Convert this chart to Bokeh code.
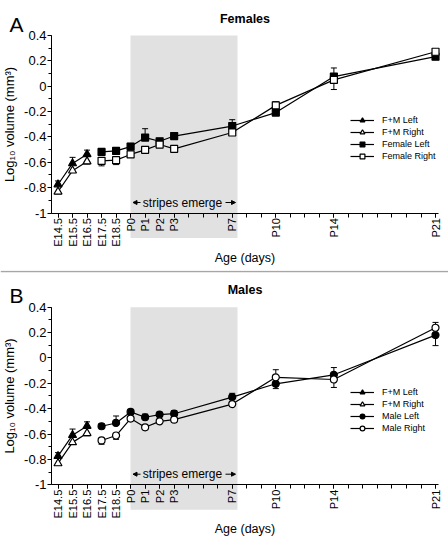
import math
from bokeh.plotting import figure
from bokeh.models import (FixedTicker, Label, Arrow, NormalHead, Whisker, TeeHead,
                          ColumnDataSource, Legend, LegendItem, Span)
from bokeh.layouts import column
from bokeh.embed import file_html
from bokeh.resources import INLINE

# ---------------- data ----------------
X_LABELS = ["E14.5", "E15.5", "E16.5", "E17.5", "E18.5", "P0", "P1", "P2", "P3",
            "P7", "P10", "P14", "P21"]
X_DAYS = [-5, -4, -3, -2, -1, 0, 1, 2, 3, 7, 10, 14, 21]
FM_DAYS = X_DAYS[:3]
SEX_DAYS = X_DAYS[3:]

fm_left = [-0.775, -0.609, -0.537]
fm_right = [-0.832, -0.666, -0.594]
fm_left_err = [0.028, 0.048, 0.033]
fm_right_err = [0.016, 0.015, 0.02]

female_left = [-0.518, -0.510, -0.476, -0.405, -0.434, -0.393, -0.314, -0.208, 0.076, 0.233]
female_right = [-0.588, -0.583, -0.538, -0.502, -0.460, -0.494, -0.365, -0.151, 0.050, 0.272]
female_left_err = [0.02, 0.02, 0.025, 0.07, 0.015, 0.01, 0.05, 0.015, 0.068, 0.01]
female_right_err = [0.04, 0.035, 0.015, 0.02, 0.01, 0.01, 0.01, 0.03, 0.076, 0.01]

male_left = [-0.539, -0.513, -0.426, -0.468, -0.447, -0.440, -0.309, -0.204, -0.133, 0.180]
male_right = [-0.651, -0.612, -0.478, -0.547, -0.500, -0.487, -0.364, -0.153, -0.170, 0.238]
male_left_err = [0.02, 0.055, 0.015, 0.025, 0.02, 0.025, 0.03, 0.038, 0.057, 0.083]
male_right_err = [0.03, 0.03, 0.01, 0.01, 0.01, 0.01, 0.01, 0.06, 0.063, 0.042]

Y_TICKS = [-1, -0.8, -0.6, -0.4, -0.2, 0, 0.2, 0.4]
Y_TICK_LABELS = ["-1", "-0.8", "-0.6", "-0.4", "-0.2", "0", "0.2", "0.4"]
Y_MINOR = [-1, -0.9, -0.8, -0.7, -0.6, -0.5, -0.4, -0.3, -0.2, -0.1, 0, 0.1, 0.2, 0.3, 0.4]
ALL_DAYS = list(range(-5, 22))

FONT = "Liberation Sans"

# ---------------- layout constants (pixels) ----------------
W = 448
PX_DAY = 14.52          # pixels per day
X0_PX = 57.5            # pixel of E14.5 (day -5)
PX_UNIT = 126.8         # pixels per log unit


def xd(px):
    return -5 + (px - X0_PX) / PX_DAY


X_RANGE = (xd(0), xd(W))
AXIS_X = xd(51)
AXIS_X_END = xd(438)


def whiskers(p, xs, ys, partner, errs):
    up = dict(base=[], lower=[], upper=[])
    dn = dict(base=[], lower=[], upper=[])
    for x, y, q, e in zip(xs, ys, partner, errs):
        if y >= q:
            up["base"].append(x); up["lower"].append(y); up["upper"].append(y + e)
        else:
            dn["base"].append(x); dn["lower"].append(y - e); dn["upper"].append(y)
    p.add_layout(Whisker(source=ColumnDataSource(up), base="base", lower="lower", upper="upper",
                         line_color="black", line_width=1, lower_head=None,
                         upper_head=TeeHead(size=6, line_width=1, line_color="black"),
                         level="underlay"))
    p.add_layout(Whisker(source=ColumnDataSource(dn), base="base", lower="lower", upper="upper",
                         line_color="black", line_width=1, upper_head=None,
                         lower_head=TeeHead(size=6, line_width=1, line_color="black"),
                         level="underlay"))


def make_panel(letter, title, s_left, s_right, s_left_err, s_right_err, marker, names,
               height, y04, separator=False):
    def yd(py):
        return 0.4 - (py - y04) / PX_UNIT

    p = figure(width=W, height=height, x_range=X_RANGE, y_range=(yd(height), yd(0)),
               output_backend="svg", toolbar_location=None,
               min_border_left=0, min_border_right=0, min_border_top=0,
               min_border_bottom=0, outline_line_color=None)
    p.grid.visible = False

    if separator:
        p.add_layout(Span(location=yd(1), dimension="width", line_color="#a6a6a6",
                          line_width=1.5))

    p.quad(left=xd(130), right=xd(237), bottom=yd(y04 + 202.5), top=0.4,
           fill_color="#e1e1e1", line_color=None, level="image")

    whiskers(p, FM_DAYS, fm_left, fm_right, fm_left_err)
    whiskers(p, FM_DAYS, fm_right, fm_left, fm_right_err)
    whiskers(p, SEX_DAYS, s_left, s_right, s_left_err)
    whiskers(p, SEX_DAYS, s_right, s_left, s_right_err)

    series = [
        (FM_DAYS, fm_left, "triangle", "black", 8, names[0]),
        (FM_DAYS, fm_right, "triangle", "white", 8, names[1]),
        (SEX_DAYS, s_left, marker, "black", 7, names[2]),
        (SEX_DAYS, s_right, marker, "white", 7, names[3]),
    ]
    items = []
    for xs, ys, mk, fill, size, name in series:
        l = p.line(xs, ys, line_color="black", line_width=1.2)
        s = p.scatter(xs, ys, marker=mk, size=size, fill_color=fill, line_color="black",
                      line_width=1.2)
        items.append(LegendItem(label=name, renderers=[l, s]))

    legend = Legend(items=items, location=(350, height - (y04 + 127)), border_line_color=None,
                    background_fill_alpha=0, label_text_font=FONT,
                    label_text_font_size="9px", label_text_color="black",
                    glyph_width=24, glyph_height=12, label_height=12, spacing=0,
                    padding=0, margin=0, label_standoff=8)
    p.add_layout(legend)

    # axes (placed inside the frame at fixed data positions)
    ya = p.yaxis[0]
    ya.fixed_location = AXIS_X
    ya.bounds = (-1, 0.4)
    ya.ticker = FixedTicker(ticks=Y_TICKS, minor_ticks=Y_MINOR)
    ya.major_label_overrides = dict(zip(Y_TICKS, Y_TICK_LABELS))
    ya.major_tick_out = 4
    ya.major_tick_in = 0
    ya.minor_tick_out = 3
    ya.minor_tick_in = 0
    ya.major_label_standoff = 1
    ya.major_label_text_font = FONT
    ya.major_label_text_font_size = "13px"
    ya.major_label_text_color = "black"
    ya.axis_line_color = "black"
    ya.major_tick_line_color = "black"
    ya.minor_tick_line_color = "black"
    ya.axis_label = "Log\u2081\u2080 volume (mm\u00b3)"
    ya.axis_label_text_font = FONT
    ya.axis_label_text_font_style = "normal"
    ya.axis_label_text_font_size = "13px"
    ya.axis_label_text_color = "black"
    ya.axis_label_standoff = 4

    xa = p.xaxis[0]
    xa.fixed_location = -1
    xa.bounds = (AXIS_X, AXIS_X_END)
    xa.ticker = FixedTicker(ticks=X_DAYS, minor_ticks=ALL_DAYS)
    xa.major_label_overrides = dict(zip(X_DAYS, X_LABELS))
    xa.major_label_orientation = math.pi / 2
    xa.major_tick_out = 4
    xa.major_tick_in = 0
    xa.minor_tick_out = 4
    xa.minor_tick_in = 0
    xa.major_label_standoff = 1
    xa.major_label_text_font = FONT
    xa.major_label_text_font_size = "11px"
    xa.major_label_text_color = "black"
    xa.axis_line_color = "black"
    xa.major_tick_line_color = "black"
    xa.minor_tick_line_color = "black"
    xa.axis_label = "Age (days)"
    xa.axis_label_text_font = FONT
    xa.axis_label_text_font_style = "normal"
    xa.axis_label_text_font_size = "12.5px"
    xa.axis_label_text_color = "black"
    xa.axis_label_standoff = 1

    # stripes emerge annotation
    sy = yd(y04 + 167)
    p.add_layout(Label(x=xd(182), y=sy, text="stripes emerge",
                       text_align="center", text_baseline="middle", text_font=FONT,
                       text_font_size="12px", text_color="black"))
    head = dict(size=4, line_width=1, fill_color="black", line_color="black")
    p.add_layout(Arrow(x_start=xd(140), y_start=sy, x_end=xd(132.5), y_end=sy,
                       line_width=1, line_color="black", end=NormalHead(**head)))
    p.add_layout(Arrow(x_start=xd(225), y_start=sy, x_end=xd(235), y_end=sy,
                       line_width=1, line_color="black", end=NormalHead(**head)))

    p.add_layout(Label(x=xd(244.5), y=yd(y04 - 17), text=title,
                       text_align="center", text_baseline="alphabetic", text_font=FONT,
                       text_font_style="bold", text_font_size="12.5px", text_color="black"))
    p.add_layout(Label(x=xd(9), y=yd(y04 - 11.5), text=letter,
                       text_align="left", text_baseline="alphabetic", text_font=FONT,
                       text_font_size="21px", text_color="black"))
    return p


pA = make_panel("A", "Females", female_left, female_right, female_left_err, female_right_err,
                "square", ["F+M Left", "F+M Right", "Female Left", "Female Right"],
                height=270, y04=35.0)
pB = make_panel("B", "Males", male_left, male_right, male_left_err, male_right_err,
                "circle", ["F+M Left", "F+M Right", "Male Left", "Male Right"],
                height=272, y04=36.7, separator=True)

layout = column(pA, pB, spacing=0)

open("out.html", "w").write(file_html(layout, INLINE))
